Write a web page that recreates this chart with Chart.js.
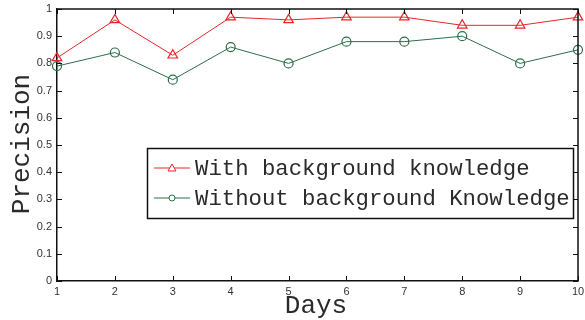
<!DOCTYPE html>
<html>
<head>
<meta charset="utf-8">
<script src="https://cdn.jsdelivr.net/npm/chart.js@4/dist/chart.umd.min.js"></script>
<style>
html,body{margin:0;padding:0;background:#fff;}
#wrap{width:585px;height:320px;position:relative;}
</style>
</head>
<body>
<div id="wrap"><canvas id="c" width="585" height="320"></canvas></div>
<script>
const days = [1, 2, 3, 4, 5, 6, 7, 8, 9, 10];
const withBK = [0.82, 0.96, 0.83, 0.97, 0.96, 0.97, 0.97, 0.94, 0.94, 0.97];
const withoutBK = [0.79, 0.84, 0.74, 0.86, 0.80, 0.88, 0.88, 0.90, 0.80, 0.85];
const xTickLabels = ['1', '2', '3', '4', '5', '6', '7', '8', '9', '10'];
const yTickLabels = ['0', '0.1', '0.2', '0.3', '0.4', '0.5', '0.6', '0.7', '0.8', '0.9', '1'];
const seriesNames = ['With background knowledge', 'Without background Knowledge'];
const xTitle = 'Days';
const yTitle = 'Precision';

const RED = '#e8262a';
const GREEN = '#2d6e4a';
const MONO = '"Liberation Mono", "DejaVu Sans Mono", monospace';

const framePlugin = {
  id: 'frame',
  afterDraw(chart) {
    const ctx = chart.ctx;
    const a = chart.chartArea;
    const xs = chart.scales.x, ys = chart.scales.y;
    ctx.save();
    ctx.strokeStyle = '#111';
    ctx.lineWidth = 1.5;
    ctx.beginPath();
    ctx.moveTo(a.left, a.top); ctx.lineTo(a.right, a.top); ctx.lineTo(a.right, a.bottom);
    ctx.stroke();
    ctx.lineWidth = 1;
    const tl = 5;
    ctx.beginPath();
    xs.ticks.forEach(t => {
      const px = Math.round(xs.getPixelForValue(t.value)) + 0.5;
      ctx.moveTo(px, a.bottom); ctx.lineTo(px, a.bottom - tl);
      ctx.moveTo(px, a.top); ctx.lineTo(px, a.top + tl);
    });
    ys.ticks.forEach(t => {
      const py = Math.round(ys.getPixelForValue(t.value)) + 0.5;
      ctx.moveTo(a.left, py); ctx.lineTo(a.left + tl, py);
      ctx.moveTo(a.right, py); ctx.lineTo(a.right - tl, py);
    });
    ctx.stroke();

    // axis titles
    ctx.fillStyle = '#2a2a2a';
    ctx.font = '26px ' + MONO;
    ctx.textAlign = 'center';
    ctx.textBaseline = 'middle';
    ctx.fillText(xTitle, 316, 306);
    ctx.save();
    ctx.translate(22, 144);
    ctx.rotate(-Math.PI / 2);
    ctx.fillText(yTitle, 0, 0);
    ctx.restore();

    // legend
    const bx = 147.5, by = 148.5, bw = 426, bh = 70;
    ctx.fillStyle = '#fff';
    ctx.fillRect(bx, by, bw, bh);
    ctx.strokeStyle = '#111';
    ctx.lineWidth = 1.5;
    ctx.strokeRect(bx, by, bw, bh);
    const rows = [168, 198];
    chart.data.datasets.forEach((ds, i) => {
      const y = rows[i];
      ctx.strokeStyle = ds.borderColor;
      ctx.lineWidth = 1;
      ctx.beginPath();
      ctx.moveTo(154, y); ctx.lineTo(190, y);
      ctx.stroke();
      ctx.fillStyle = '#fff';
      ctx.beginPath();
      if (ds.pointStyle === 'triangle') {
        ctx.moveTo(172, y - 4); ctx.lineTo(176, y + 3); ctx.lineTo(168, y + 3); ctx.closePath();
      } else {
        ctx.arc(172, y, 3, 0, Math.PI * 2);
      }
      ctx.fill(); ctx.stroke();
      ctx.fillStyle = '#2a2a2a';
      ctx.font = '22.3px ' + MONO;
      ctx.textAlign = 'left';
      ctx.textBaseline = 'middle';
      ctx.fillText(ds.label, 195, y + 1);
    });
    ctx.restore();
  }
};

new Chart(document.getElementById('c'), {
  type: 'line',
  data: {
    datasets: [
      {
        label: seriesNames[0],
        data: days.map((d, i) => ({ x: d, y: withBK[i] })),
        borderColor: RED,
        backgroundColor: '#fff',
        borderWidth: 1,
        pointStyle: 'triangle',
        pointRadius: 5.5,
        pointBorderWidth: 1.2,
        pointBackgroundColor: 'rgba(255,255,255,0)',
        pointBorderColor: RED,
        tension: 0
      },
      {
        label: seriesNames[1],
        data: days.map((d, i) => ({ x: d, y: withoutBK[i] })),
        borderColor: GREEN,
        backgroundColor: '#fff',
        borderWidth: 1,
        pointStyle: 'circle',
        pointRadius: 4.5,
        pointBorderWidth: 1.2,
        pointBackgroundColor: 'rgba(255,255,255,0)',
        pointBorderColor: GREEN,
        tension: 0
      }
    ]
  },
  options: {
    responsive: false,
    animation: false,
    clip: false,
    layout: { padding: { left: 0, right: 7, top: 9, bottom: 0 } },
    plugins: { legend: { display: false }, tooltip: { enabled: false } },
    scales: {
      x: {
        type: 'linear',
        min: 1, max: 10,
        grid: { display: false, drawTicks: false },
        border: { display: true, color: '#111', width: 1.5 },
        ticks: {
          stepSize: 1,
          padding: 4,
          color: '#333',
          font: { family: '"Liberation Sans", Arial, sans-serif', size: 11 },
          maxRotation: 0,
          callback: (v) => xTickLabels[days.indexOf(v)]
        },
        afterFit(s) { s.height = 39; s.paddingLeft = 0; s.paddingRight = 0; }
      },
      y: {
        min: 0, max: 1,
        grid: { display: false, drawTicks: false },
        border: { display: true, color: '#111', width: 1.5 },
        ticks: {
          stepSize: 0.1,
          padding: 5,
          color: '#333',
          font: { family: '"Liberation Sans", Arial, sans-serif', size: 11 },
          callback: (v, i) => yTickLabels[i]
        },
        afterFit(s) { s.width = 57; s.paddingTop = 0; s.paddingBottom = 0; }
      }
    }
  },
  plugins: [framePlugin]
});
</script>
</body>
</html>
